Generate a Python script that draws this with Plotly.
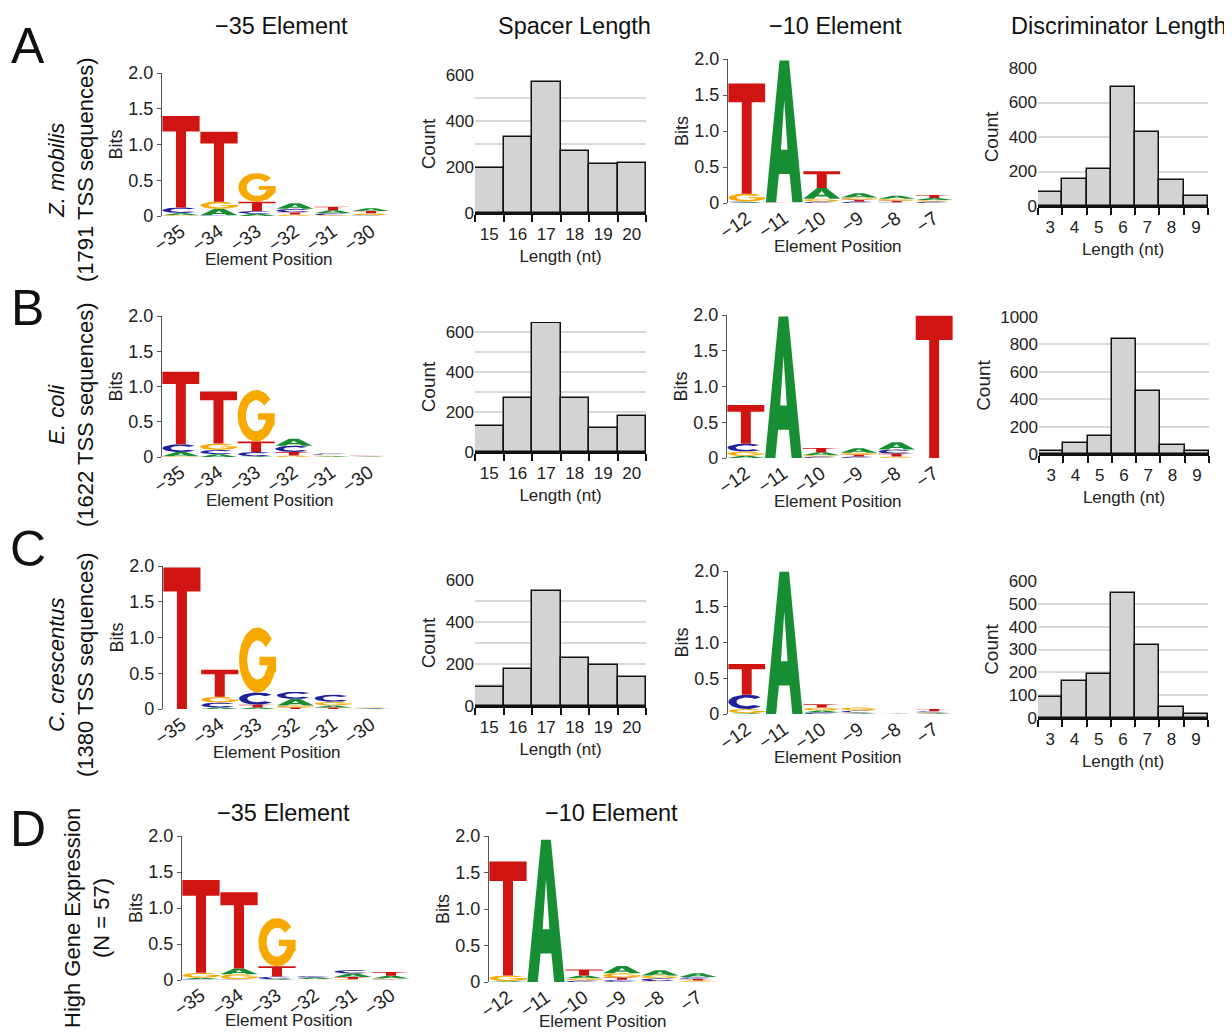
import numpy as np
import plotly.graph_objects as go

W, H = 1232, 1032
OFF = 8  # page offset of the figure inside the window
FONT = "Liberation Sans Narrow, Arial Narrow, Liberation Sans, Arial, sans-serif"

# ---------------- data ----------------
pos35 = ["−35", "−34", "−33", "−32", "−31", "−30"]
pos10 = ["−12", "−11", "−10", "−9", "−8", "−7"]
spacer_len = [15, 16, 17, 18, 19, 20]
disc_len = [3, 4, 5, 6, 7, 8, 9]

# sequence-logo information (bits) per letter, per position
zm35 = {"A": [0.03, 0.09, 0.03, 0.08, 0.04, 0.04],
        "C": [0.08, 0.01, 0.04, 0.05, 0.03, 0.01],
        "G": [0.01, 0.10, 0.40, 0.02, 0.01, 0.03],
        "T": [1.28, 0.98, 0.13, 0.03, 0.05, 0.03]}
zm10 = {"A": [0.01, 1.97, 0.15, 0.06, 0.04, 0.03],
        "C": [0.01, 0.00, 0.02, 0.02, 0.01, 0.02],
        "G": [0.11, 0.00, 0.04, 0.03, 0.03, 0.02],
        "T": [1.53, 0.01, 0.23, 0.025, 0.02, 0.04]}
ec35 = {"A": [0.06, 0.04, 0.01, 0.10, 0.01, 0.005],
        "C": [0.11, 0.06, 0.06, 0.09, 0.02, 0.005],
        "G": [0.01, 0.09, 0.73, 0.02, 0.01, 0.005],
        "T": [1.03, 0.74, 0.15, 0.05, 0.01, 0.005]}
ec10 = {"A": [0.03, 1.98, 0.04, 0.06, 0.10, 0.00],
        "C": [0.11, 0.00, 0.02, 0.02, 0.06, 0.00],
        "G": [0.06, 0.00, 0.02, 0.03, 0.02, 0.00],
        "T": [0.54, 0.00, 0.06, 0.025, 0.04, 1.99]}
cc35 = {"A": [0.00, 0.02, 0.02, 0.09, 0.03, 0.007],
        "C": [0.00, 0.07, 0.17, 0.10, 0.10, 0.007],
        "G": [0.00, 0.08, 0.91, 0.03, 0.05, 0.007],
        "T": [1.98, 0.38, 0.04, 0.02, 0.02, 0.007]}
cc10 = {"A": [0.01, 1.99, 0.03, 0.01, 0.003, 0.01],
        "C": [0.20, 0.00, 0.02, 0.03, 0.003, 0.02],
        "G": [0.06, 0.00, 0.04, 0.04, 0.003, 0.01],
        "T": [0.43, 0.00, 0.045, 0.01, 0.003, 0.03]}
he35 = {"A": [0.02, 0.08, 0.01, 0.02, 0.05, 0.04],
        "C": [0.01, 0.01, 0.04, 0.02, 0.05, 0.01],
        "G": [0.07, 0.07, 0.67, 0.005, 0.01, 0.01],
        "T": [1.29, 1.06, 0.14, 0.01, 0.03, 0.05]}
he10 = {"A": [0.01, 1.95, 0.04, 0.10, 0.07, 0.05],
        "C": [0.00, 0.00, 0.02, 0.03, 0.04, 0.03],
        "G": [0.08, 0.00, 0.03, 0.06, 0.04, 0.02],
        "T": [1.56, 0.00, 0.08, 0.03, 0.01, 0.02]}

zm_spacer = [195, 332, 568, 270, 214, 217]
ec_spacer = [130, 268, 645, 268, 122, 180]
cc_spacer = [90, 176, 550, 230, 194, 140]
zm_disc = [82, 155, 214, 691, 427, 148, 56]
ec_disc = [22, 83, 134, 839, 459, 68, 20]
cc_disc = [94, 163, 193, 548, 320, 48, 16]

COLORS = {"A": "#178E33", "C": "#20209A", "G": "#F7A900", "T": "#CF1412"}


# ---------------- letter glyphs (unit box) ----------------
def arc(cx, cy, rx, ry, a0, a1, n=40):
    t = np.radians(np.linspace(a0, a1, n))
    return [(cx + rx * np.cos(a), cy + ry * np.sin(a)) for a in t]


def glyph(ch):
    if ch == "T":
        return [[(0, 1), (1, 1), (1, 0.83), (0.635, 0.83), (0.635, 0),
                 (0.365, 0), (0.365, 0.83), (0, 0.83)]]
    if ch == "A":
        outer = [(0, 0), (0.37, 1), (0.63, 1), (1, 0), (0.72, 0), (0.645, 0.2),
                 (0.355, 0.2), (0.28, 0)]
        hole = [(0.41, 0.37), (0.59, 0.37), (0.5, 0.72)]
        return [outer, hole]
    if ch == "C":
        pts = arc(0.5, 0.5, 0.5, 0.5, 40, 320) + arc(0.5, 0.5, 0.28, 0.3, 320, 40)
        return [pts]
    if ch == "G":
        pts = arc(0.5, 0.5, 0.5, 0.5, 40, 338)
        pts += [(1.0, 0.31), (1.0, 0.55), (0.55, 0.55), (0.55, 0.42), (0.77, 0.42)]
        pts += arc(0.5, 0.5, 0.28, 0.3, 335, 40)
        return [pts]


GLYPHS = {c: glyph(c) for c in "ACGT"}

fig = go.Figure()
layout = {}
ann = []


def px2x(px):
    return (px - OFF) / W


def py2y(py):
    return 1 - (py - OFF) / H


def ax_names(n):
    s = "" if n == 1 else str(n)
    return "x" + s, "y" + s, "xaxis" + s, "yaxis" + s


def dom(box):
    x0, x1, yt, yb = box
    return [px2x(x0), px2x(x1)], [py2y(yb), py2y(yt)]


def add_logo(n, data, labels, box, title_x, title_shift=-43):
    xr, yr, xk, yk = ax_names(n)
    xs = {c: [] for c in "ACGT"}
    ys = {c: [] for c in "ACGT"}
    for i in range(len(labels)):
        items = sorted((data[c][i], c) for c in "ACGT")
        base = 0.0
        for h, c in items:
            if h <= 0:
                continue
            for poly in GLYPHS[c]:
                for u, v in poly:
                    xs[c].append(i - 0.49 + 0.98 * u)
                    ys[c].append(base + v * h)
                xs[c].append(None)
                ys[c].append(None)
            base += h
    for c in "ACGT":
        fig.add_trace(go.Scatter(x=xs[c], y=ys[c], mode="lines", fill="toself",
                                 fillcolor=COLORS[c], line=dict(width=0, color=COLORS[c]),
                                 hoverinfo="skip", showlegend=False, cliponaxis=False,
                                 xaxis=xr, yaxis=yr))
    xd, yd = dom(box)
    layout[xk] = dict(domain=xd, anchor=yr, range=[-0.5, len(labels) - 0.5], automargin=False,
                      tickmode="array", tickvals=list(range(len(labels))), ticktext=labels,
                      tickangle=-35, showline=False, showgrid=False, zeroline=False,
                      ticks="", tickfont=dict(size=19, color="#222"))
    ann.append(dict(text="Element Position", xref=xr + " domain", yref=yr + " domain",
                    x=title_x, y=0, yshift=title_shift, showarrow=False, xanchor="center",
                    yanchor="middle", font=dict(size=17, color="#222", family=FONT)))
    layout[yk] = dict(domain=yd, anchor=xr, range=[0, 2], automargin=False,
                      tickmode="array", tickvals=[0, 0.5, 1, 1.5, 2],
                      ticktext=["0", "0.5", "1.0", "1.5", "2.0"],
                      showline=True, linecolor="#555", linewidth=1.2,
                      ticks="outside", ticklen=4, tickcolor="#555",
                      showgrid=False, zeroline=False,
                      tickfont=dict(size=18, color="#222"),
                      title=dict(text="Bits", font=dict(size=18, color="#222"), standoff=0))


def add_hist(n, cats, vals, box, ymax, dtick, minor):
    xr, yr, xk, yk = ax_names(n)
    fig.add_trace(go.Bar(x=cats, y=vals, width=1.0,
                         marker=dict(color="#D3D3D3", line=dict(color="#111", width=1.5)),
                         hoverinfo="skip", showlegend=False, xaxis=xr, yaxis=yr))
    xd, yd = dom(box)
    bounds = [c - 0.5 for c in cats] + [cats[-1] + 0.5]
    layout[xk] = dict(domain=xd, anchor=yr, range=[cats[0] - 0.5, cats[-1] + 0.5],
                      automargin=False,
                      tickmode="array", tickvals=cats, ticktext=[str(c) for c in cats],
                      ticks="", showgrid=False, zeroline=False, ticklabelstandoff=5,
                      showline=True, linecolor="#111", linewidth=1.5,
                      minor=dict(tickmode="array", tickvals=bounds, ticks="outside",
                                 ticklen=7, tickcolor="#111", tickwidth=1.5, showgrid=False),
                      tickfont=dict(size=17, color="#222"),
                      title=dict(text="Length (nt)", font=dict(size=17, color="#222"),
                                 standoff=7))
    ydict = dict(domain=yd, anchor=xr, range=[0, ymax], tickmode="linear", tick0=0,
                 automargin=False,
                 dtick=dtick, showgrid=True, gridcolor="#D9D9D9", gridwidth=1.5,
                 zeroline=False, showline=False, ticks="",
                 tickfont=dict(size=17, color="#222"),
                 title=dict(text="Count", font=dict(size=19, color="#222"), standoff=4))
    if minor:
        ydict["minor"] = dict(tickmode="linear", tick0=0, dtick=minor, showgrid=True,
                              gridcolor="#D9D9D9", gridwidth=1.5, ticks="")
    layout[yk] = ydict


# row A
add_logo(1, zm35, pos35, (162, 390, 73, 216), 0.47)
add_hist(2, spacer_len, zm_spacer, (475, 646, 75, 213), 600, 200, 100)
add_logo(3, zm10, pos10, (728, 953, 59, 203), 0.49)
add_hist(4, disc_len, zm_disc, (1038, 1208, 68, 206), 800, 200, None)
# row B
add_logo(5, ec35, pos35, (162, 388, 316, 457), 0.48)
add_hist(6, spacer_len, ec_spacer, (475, 646, 322, 452), 650, 200, 100)
add_logo(7, ec10, pos10, (727, 953, 315, 458), 0.49)
add_hist(8, disc_len, ec_disc, (1039, 1209, 317, 454), 1000, 200, None)
# row C
add_logo(9, cc35, pos35, (163, 390, 566, 709), 0.5)
add_hist(10, spacer_len, cc_spacer, (475, 646, 580, 706), 600, 200, 100)
add_logo(11, cc10, pos10, (728, 953, 571, 714), 0.49)
add_hist(12, disc_len, cc_disc, (1038, 1208, 581, 718), 600, 100, None)
# row D
add_logo(13, he35, pos35, (182, 410, 836, 980), 0.47, -40)
add_logo(14, he10, pos10, (489, 717, 836, 982), 0.5, -39)

# ---------------- text ----------------


def txt(text, px, py, size, angle=0, **kw):
    ann.append(dict(text=text, x=px2x(px), y=py2y(py), xref="paper", yref="paper",
                    showarrow=False, xanchor="center", yanchor="middle", textangle=angle,
                    font=dict(size=size, color="#111", family=FONT), **kw))


for t, px in [("−35 Element", 281), ("Spacer Length", 574), ("−10 Element", 835),
              ("Discriminator Length", 1119)]:
    txt(t, px, 26, 23.5)
txt("−35 Element", 283, 813, 23.5)
txt("−10 Element", 611, 813, 23.5)

for t, py in [("A", 46), ("B", 308), ("C", 549), ("D", 829)]:
    txt(t, 28, py, 50)

txt("<i>Z. mobilis</i><br>(1791 TSS sequences)", 71, 170, 22, angle=-90)
txt("<i>E. coli</i><br>(1622 TSS sequences)", 71, 415, 22, angle=-90)
txt("<i>C. crescentus</i><br>(1380 TSS sequences)", 71, 665, 22, angle=-90)
txt("High Gene Expression<br>(N = 57)", 87, 918, 22, angle=-90)

fig.update_layout(width=W, height=H, margin=dict(l=0, r=0, t=0, b=0, autoexpand=False),
                  paper_bgcolor="white", plot_bgcolor="white",
                  font=dict(family=FONT, color="#222"), bargap=0,
                  annotations=ann, showlegend=False, **layout)

fig.write_html("out.html")
